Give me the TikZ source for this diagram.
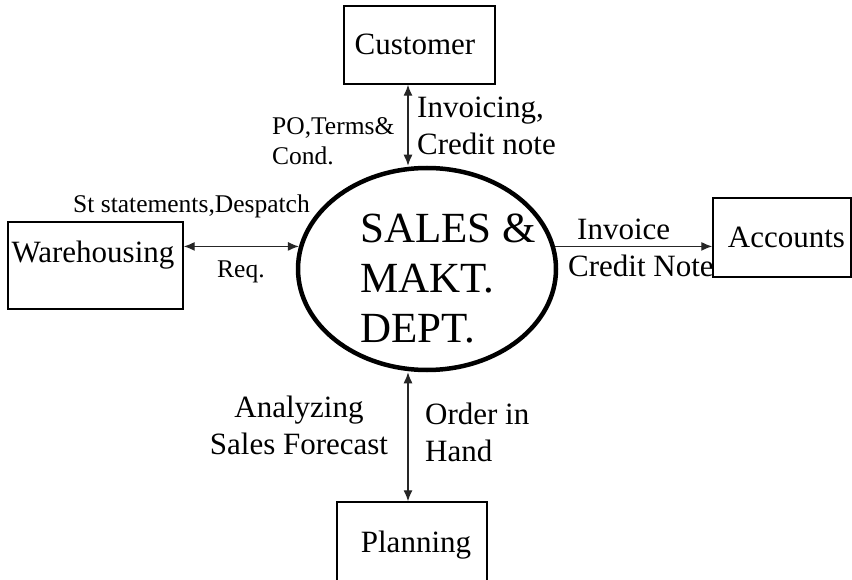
\documentclass[tikz,border=0pt]{standalone}
\usepackage{fontspec}
\setmainfont{Liberation Serif}
\usetikzlibrary{arrows.meta,shapes.geometric}
\tikzset{
  box/.style={draw, line width=1.4pt, inner sep=0pt},
  txt/.style={inner sep=0pt, font=\fontsize{31}{37}\selectfont},
  smalltxt/.style={inner sep=0pt, font=\fontsize{25.5}{30}\selectfont},
  bigtxt/.style={inner sep=0pt, font=\fontsize{43}{50}\selectfont},
  flow/.style={line width=1.3pt, draw=black!85},
  dbl/.style={flow, {Latex[length=11pt,width=9pt]}-{Latex[length=11pt,width=9pt]}},
  sgl/.style={flow, -{Latex[length=11pt,width=9pt]}},
}
\begin{document}
\begin{tikzpicture}[x=1pt,y=-1pt]
\useasboundingbox (0,0) rectangle (852,580);
\clip (0,0) rectangle (852,580);
% boxes
\node[box, minimum width=151, minimum height=78] (cust) at (419.5,45) {};
\node[txt, anchor=base] (custt) at (415,55) {Customer};
\node[box, minimum width=175, minimum height=87] (wh) at (95.5,265.5) {};
\node[txt, anchor=base] (wht) at (93,263) {Warehousing};
\node[box, minimum width=138, minimum height=79] (acc) at (782,237.5) {};
\node[txt, anchor=base] (acct) at (786.5,248) {Accounts};
\node[box, minimum width=150, minimum height=100] (plan) at (412,552) {};
\node[txt, anchor=base] (plant) at (416,552) {Planning};
% process
\node[ellipse, draw, line width=4.5pt, minimum width=258, minimum height=202, inner sep=0pt] (sales) at (427,269) {};
\node[bigtxt, anchor=base west, align=left] (salest) at (360,342) {SALES \&\\MAKT.\\DEPT.};
% connectors
\coordinate (ax) at (408,0);
\draw[dbl] (cust.south -| ax) -- (sales.north -| ax);
\draw[dbl] (sales.south -| ax) -- (plan.north -| ax);
\draw[dbl] (wh.east |- sales.170) -- (sales.170);
\draw[sgl] (sales.10) -- (acc.west |- sales.10);
% labels
\node[smalltxt, anchor=base west, align=left] (l1) at (272,165) {PO,Terms\&\\Cond.};
\node[txt, anchor=base west, align=left] (l2) at (417,155) {Invoicing,\\Credit note};
\node[smalltxt, anchor=base west] (l3) at (73,213) {St statements,Despatch};
\node[smalltxt, anchor=base west] (l4) at (217,278) {Req.};
\node[txt, anchor=base west] (l5) at (577,240) {Invoice};
\node[txt, anchor=base west] (l6) at (568,277) {Credit Note};
\node[txt, anchor=base, align=center] (l7) at (299,454) {Analyzing\\Sales Forecast};
\node[txt, anchor=base west, align=left] (l8) at (425,461) {Order in\\Hand};
\end{tikzpicture}
\end{document}
